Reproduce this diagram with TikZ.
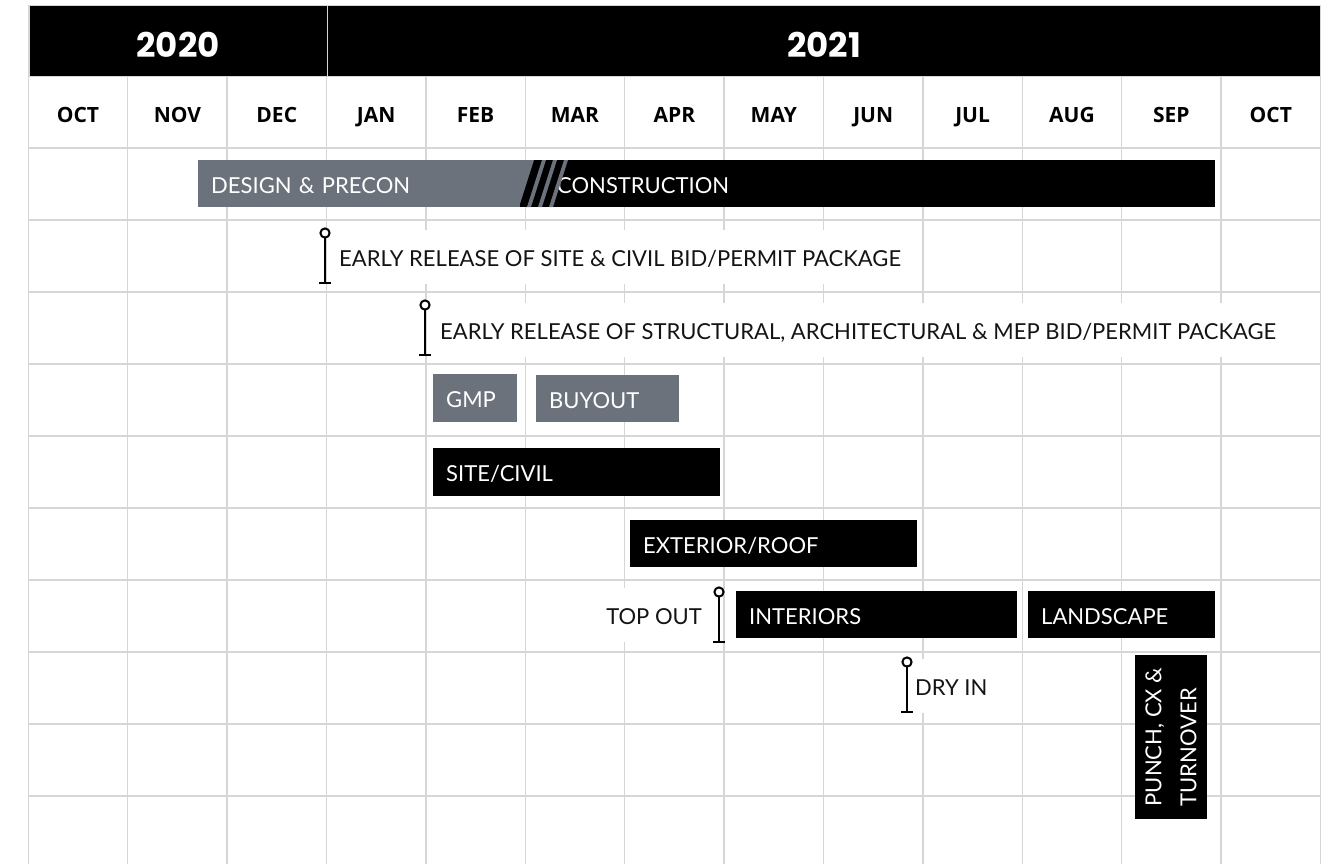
\documentclass[tikz,border=0pt]{standalone}
\usepackage{fontspec}
\setmainfont{Lato}
\newfontfamily\monthfont{Open Sans}
\newfontfamily\yearfont{Poppins}
\usetikzlibrary{calc}

\definecolor{phasegray}{RGB}{107,114,123}
\definecolor{gridgray}{RGB}{214,214,214}
\definecolor{inkblack}{RGB}{20,20,20}

\tikzset{
	gridline/.style={draw=gridgray, line width=1.4pt},
	yearband/.style={fill=black, draw=gridgray, line width=1.2pt, text=white, anchor=north west,
		minimum height=71, inner sep=0pt, text height=32, text depth=0,
		font=\yearfont\bfseries\fontsize{34}{40}\selectfont},
	monthlabel/.style={anchor=base, inner sep=0pt, text=black,
		font=\monthfont\bfseries\fontsize{21}{25}\selectfont},
	taskbar/.style={anchor=north west, text=white, minimum height=47, inner xsep=13, inner ysep=0pt,
		text height=19, text depth=0, align=left, font=\fontsize{22}{26}\selectfont},
	greybar/.style={taskbar, fill=phasegray},
	blackbar/.style={taskbar, fill=black},
	tag/.style={fill=white, text=inkblack, minimum height=54, inner xsep=2, inner ysep=0pt,
		text height=19, text depth=0, font=\fontsize{22}{26}\selectfont},
	pics/marker/.style={code={
		\draw[line width=2.4pt] (-6,0) -- (6,0);
		\draw[line width=2.4pt] (0,0) -- (0,-45);
		\draw[line width=2pt, fill=white] (0,-50) circle (4.6);
	}}
}

\begin{document}
\begin{tikzpicture}[x=1pt, y=-1pt]
	\useasboundingbox (0,0) rectangle (1332,863);
	\clip (0,0) rectangle (1332,863);

	% griglia dei mesi
	\foreach \i in {0,...,13}
		\draw[gridline] (28.3+99.4*\i,76) -- (28.3+99.4*\i,870);
	\foreach \j in {0,...,10}
		\draw[gridline] (28.3,76+72*\j) -- (1320,76+72*\j);

	% anni
	\node[yearband, minimum width=298.4] (y2020) at (28.3,5) {2020};
	\node[yearband, minimum width=993.3] (y2021) at (326.7,5) {2021};

	% mesi
	\foreach \m [count=\k from 0] in {OCT,NOV,DEC,JAN,FEB,MAR,APR,MAY,JUN,JUL,AUG,SEP,OCT}
		\node[monthlabel] (m\k) at (78+99.4*\k,122.7) {\m};

	% fasi
	\node[blackbar, minimum width=697, text width=619, inner xsep=39] (construction) at (518,160) {CONSTRUCTION};
	\node[greybar, minimum width=322, text width=296] (design) at (198,160) {DESIGN \& PRECON};
	\fill[phasegray] (519,160) -- (534,160) -- (519,207) -- cycle;
	\foreach \s in {542,553,564}
		\fill[phasegray] (\s,160) -- ++(4,0) -- ++(-15,47) -- ++(-4,0) -- cycle;

	\node[greybar, minimum width=84, text width=58, minimum height=48] (gmp) at (433,374) {GMP};
	\node[greybar, minimum width=143, text width=117] (buyout) at (536,375) {BUYOUT};
	\node[blackbar, minimum width=287, text width=261, minimum height=48] (sitecivil) at (433,448) {SITE/CIVIL};
	\node[blackbar, minimum width=287, text width=261] (exterior) at (630,520) {EXTERIOR/ROOF};
	\node[blackbar, minimum width=281, text width=255] (interiors) at (736,591) {INTERIORS};
	\node[blackbar, minimum width=187, text width=161] (landscape) at (1028,591) {LANDSCAPE};
	\node[fill=black, text=white, rotate=90, minimum width=164, minimum height=72, inner sep=0pt,
		align=left, font=\fontsize{22}{35}\selectfont] (punch) at (1171,737)
		{PUNCH, CX \&\\TURNOVER};

	% traguardi
	\node[tag, anchor=west] (siterelease) at (337,256.5) {EARLY RELEASE OF SITE \& CIVIL BID/PERMIT PACKAGE};
	\node[tag, anchor=west] (structrelease) at (438,330) {EARLY RELEASE OF STRUCTURAL, ARCHITECTURAL \& MEP BID/PERMIT PACKAGE};
	\node[tag, anchor=east] (topout) at (704,615) {TOP OUT};
	\node[tag, anchor=west] (dryin) at (913,686) {DRY IN};

	\pic at (325,283) {marker};
	\pic at (425,355) {marker};
	\pic at (719,642) {marker};
	\pic at (907,712) {marker};
\end{tikzpicture}
\end{document}
